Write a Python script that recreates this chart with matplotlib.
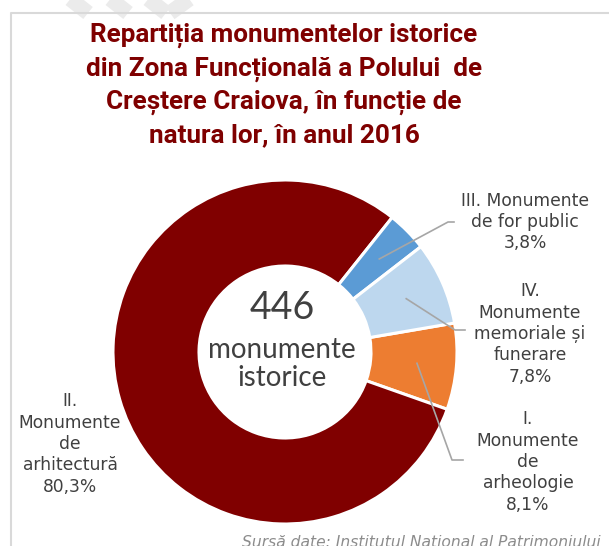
import numpy as np
import matplotlib.pyplot as plt

W, H = 609, 546

labels = ["I.\nMonumente\nde\narheologie",
          "II.\nMonumente\nde\narhitectură",
          "III. Monumente\nde for public",
          "IV.\nMonumente\nmemoriale și\nfunerare"]
shares = [8.1, 80.3, 3.8, 7.8]
colors = ["#ED7D31", "#800000", "#5B9BD5", "#BDD7EE"]
total = 446

title = ("Repartiția monumentelor istorice\n"
         "din Zona Funcțională a Polului  de\n"
         "Creștere Craiova, în funcție de\n"
         "natura lor, în anul 2016")
source = "Sursă date: Institutul Național al Patrimoniului"

fig = plt.figure(figsize=(W / 100, H / 100), dpi=100)
ax = fig.add_axes([0, 0, 1, 1])

# faint strokes above the frame
for x0, x1 in [(64, 88), (104, 128), (142, 166), (196, 170)]:
    ax.plot([x0, x1], [H + 6, H - 13], color="#ebebeb", lw=11, solid_capstyle="butt", zorder=0)
# frame
ax.plot([11, 11, W + 5], [-5, H - 13, H - 13], color="#d9d9d9", lw=1.5, zorder=1)

cx, cy, r = 285, H - 352, 172
wedges, _ = ax.pie(shares, colors=colors, startangle=9.7, counterclock=False,
                   center=(cx, cy), radius=r, frame=True,
                   wedgeprops=dict(width=r * 0.5, edgecolor="white", linewidth=2.2))
ax.set_xlim(0, W)
ax.set_ylim(0, H)
ax.set_aspect("equal")
ax.axis("off")

txt = dict(color="#404040", fontsize=12.3, ha="center", va="center", linespacing=1.25)

# label positions (text centre) and leader elbows, per slice
label_xy = [(528, H - 462), (70, H - 444), (525, H - 222), (530, H - 334)]
elbows = [[(452, H - 460), (463, H - 460)], None,
          [(448, H - 222), (454, H - 222)],
          [(455, H - 330), (465, H - 330)]]

for w, lab, s, (lx, ly), elb in zip(wedges, labels, shares, label_xy, elbows):
    ax.text(lx, ly, lab + "\n" + f"{s:.1f}%".replace(".", ","), **txt)
    if elb is None:
        continue
    mid = np.deg2rad((w.theta1 + w.theta2) / 2)
    sx, sy = cx + 0.77 * r * np.cos(mid), cy + 0.77 * r * np.sin(mid)
    xs = [sx] + [p[0] for p in elb]
    ys = [sy] + [p[1] for p in elb]
    ax.plot(xs, ys, color="#a6a6a6", lw=1.2, zorder=5)

ax.text(282, H - 308, str(total), color="#404040", fontsize=27, family="Lato",
        ha="center", va="center")
ax.text(282, H - 364, "monumente\nistorice", color="#404040", fontsize=20, family="Lato",
        ha="center", va="center", linespacing=1.05)

ax.text(284, H - 85, title, color="#7F0000", fontsize=18.8, fontweight="bold",
        family="Roboto", ha="center", va="center", linespacing=1.44)

ax.text(601, H - 535, source, color="#8c8c8c", fontsize=11.2, style="italic",
        ha="right", va="top")

fig.savefig("out.png", dpi=100)
